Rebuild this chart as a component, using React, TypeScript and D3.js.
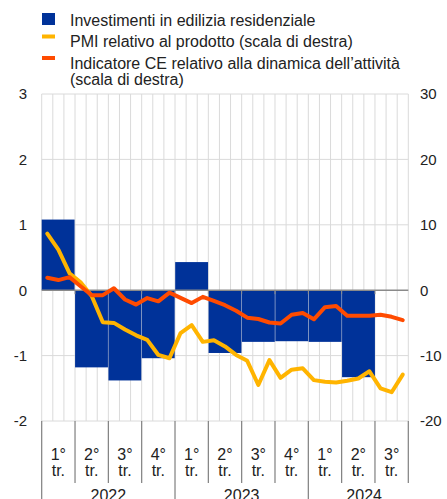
import React from "react";
import * as d3 from "d3";

const quarterLabels = ["1°", "2°", "3°", "4°", "1°", "2°", "3°", "4°", "1°", "2°", "3°"];
const yearLabels = ["2022", "2023", "2024"];
const yearQuarterCounts = [4, 4, 3];
const investment: (number | null)[] = [1.08, -1.18, -1.38, -1.04, 0.43, -0.96, -0.79, -0.78, -0.79, -1.33, null];
const pmi = [8.65, 6.2, 2.6, 1.2, -0.9, -4.9, -5.0, -6.0, -6.9, -7.6, -9.9, -10.4, -6.55, -5.35, -7.9, -7.65, -8.6, -9.9, -10.8, -14.5, -10.7, -13.4, -12.15, -11.95, -13.75, -14.0, -14.1, -13.85, -13.5, -12.4, -15.0, -15.6, -12.9];
const ce = [1.9, 1.55, 2.0, 0.6, -0.76, -0.76, 0.3, -1.42, -2.2, -1.2, -1.7, -0.38, -1.17, -1.97, -1.02, -1.65, -2.29, -3.15, -4.2, -4.4, -4.94, -5.1, -3.75, -3.5, -4.45, -2.6, -2.4, -3.92, -3.92, -3.92, -3.75, -4.07, -4.58];
const leftTicks = [3, 2, 1, 0, -1, -2];
const rightTicks = [30, 20, 10, 0, -10, -20];
const legendItems = [
  { lines: ["Investimenti in edilizia residenziale"], kind: "bar", color: "#003299" },
  { lines: ["PMI relativo al prodotto (scala di destra)"], kind: "line", color: "#ffb400" },
  { lines: ["Indicatore CE relativo alla dinamica dell’attività", "(scala di destra)"], kind: "line", color: "#ff4b00" },
];

const W = 447, H = 499;
const left = 41.7, right = 408.3, top = 94, bottom = 421;
const font = "'Liberation Sans', Arial, sans-serif";

export default function App() {
  const nMonths = pmi.length;
  const xm = d3.scaleLinear().domain([0, nMonths]).range([left, right]);
  const xq = d3.scaleBand<number>().domain(d3.range(quarterLabels.length)).range([left, right]).paddingInner(0.015);
  const yL = d3.scaleLinear().domain([-2, 3]).range([bottom, top]);
  const yR = d3.scaleLinear().domain([-20, 30]).range([bottom, top]);
  const qW = (right - left) / quarterLabels.length;
  const line = d3.line<number>().x((_, i) => xm(i + 0.5)).y((d) => yR(d)).curve(d3.curveLinear);

  let acc = 0;
  const yearSpans = yearQuarterCounts.map((c) => { const s = acc; acc += c; return [s, acc]; });

  return (
    <svg width={W} height={H} style={{ position: "absolute", left: 0, top: 0 }} fontFamily={font}>
      <rect width={W} height={H} fill="#fff" />
      {/* legend */}
      {legendItems.map((it, i) => {
        const baseY = 25.5 + i * 21.5;
        return (
          <g key={i}>
            {it.kind === "bar" ? (
              <rect x={42} y={13} width={13} height={12} fill={it.color} />
            ) : (
              <rect x={42} y={baseY - 12.5} width={13} height={4} fill={it.color} />
            )}
            {it.lines.map((l, j) => (
              <text key={j} x={70} y={baseY + j * 16.5} fontSize={16} fill="#222">{l}</text>
            ))}
          </g>
        );
      })}
      {/* grid */}
      {d3.range(1, nMonths).map((i) => (
        <line key={"v" + i} x1={xm(i)} x2={xm(i)} y1={top} y2={bottom} stroke="#dadada" strokeWidth={1} />
      ))}
      <line x1={left} x2={left} y1={top} y2={bottom} stroke="#dadada" />
      <line x1={right} x2={right} y1={top} y2={bottom} stroke="#dadada" />
      {leftTicks.filter((t) => t !== 0).map((t) => (
        <line key={"h" + t} x1={left} x2={right} y1={yL(t)} y2={yL(t)} stroke="#dadada" strokeWidth={1} />
      ))}
      {/* bars */}
      {investment.map((v, i) =>
        v == null ? null : (
          <rect key={"b" + i} x={xq(i)} width={xq.bandwidth()} y={Math.min(yL(v), yL(0))} height={Math.abs(yL(v) - yL(0))} fill="#003299" />
        )
      )}
      {/* zero line */}
      <line x1={left} x2={right} y1={yL(0)} y2={yL(0)} stroke="#8a8a8a" strokeWidth={1.5} />
      {d3.range(1, quarterLabels.length).map((q) => (
        <line key={"zt" + q} x1={left + q * qW} x2={left + q * qW} y1={yL(0)} y2={yL(0) + 4} stroke="#8a8a8a" strokeWidth={1} />
      ))}
      {/* lines */}
      <path d={line(pmi) || ""} fill="none" stroke="#ffb400" strokeWidth={4} strokeLinejoin="round" strokeLinecap="round" />
      <path d={line(ce) || ""} fill="none" stroke="#ff4b00" strokeWidth={4} strokeLinejoin="round" strokeLinecap="round" />
      {/* left axis */}
      {leftTicks.map((t) => (
        <text key={"l" + t} x={27} y={yL(t)} dy="0.36em" textAnchor="end" fontSize={15} fill="#222">{t}</text>
      ))}
      {rightTicks.map((t) => (
        <text key={"r" + t} x={420} y={yR(t)} dy="0.36em" textAnchor="start" fontSize={15} fill="#222">{t}</text>
      ))}
      {/* x axis */}
      {d3.range(0, quarterLabels.length + 1).map((q) => {
        const isYear = yearSpans.some((s) => s[0] === q) ;
        return (
          <line key={"xs" + q} x1={left + q * qW} x2={left + q * qW} y1={bottom} y2={isYear ? H : 483} stroke="#7f7f7f" strokeWidth={1.2} />
        );
      })}
      {quarterLabels.map((q, i) => (
        <g key={"ql" + i}>
          <text x={left + (i + 0.5) * qW} y={460} textAnchor="middle" fontSize={16} fill="#222">{q}</text>
          <text x={left + (i + 0.5) * qW} y={475.5} textAnchor="middle" fontSize={16} fill="#222">tr.</text>
        </g>
      ))}
      {yearLabels.map((y, i) => {
        const [s, e] = yearSpans[i];
        const cx = (left + s * qW + Math.min(left + (s + 4) * qW, right + qW * 0.35)) / 2;
        return (
          <text key={"y" + y} x={cx} y={501} textAnchor="middle" fontSize={16} fill="#222">{y}</text>
        );
      })}
    </svg>
  );
}
